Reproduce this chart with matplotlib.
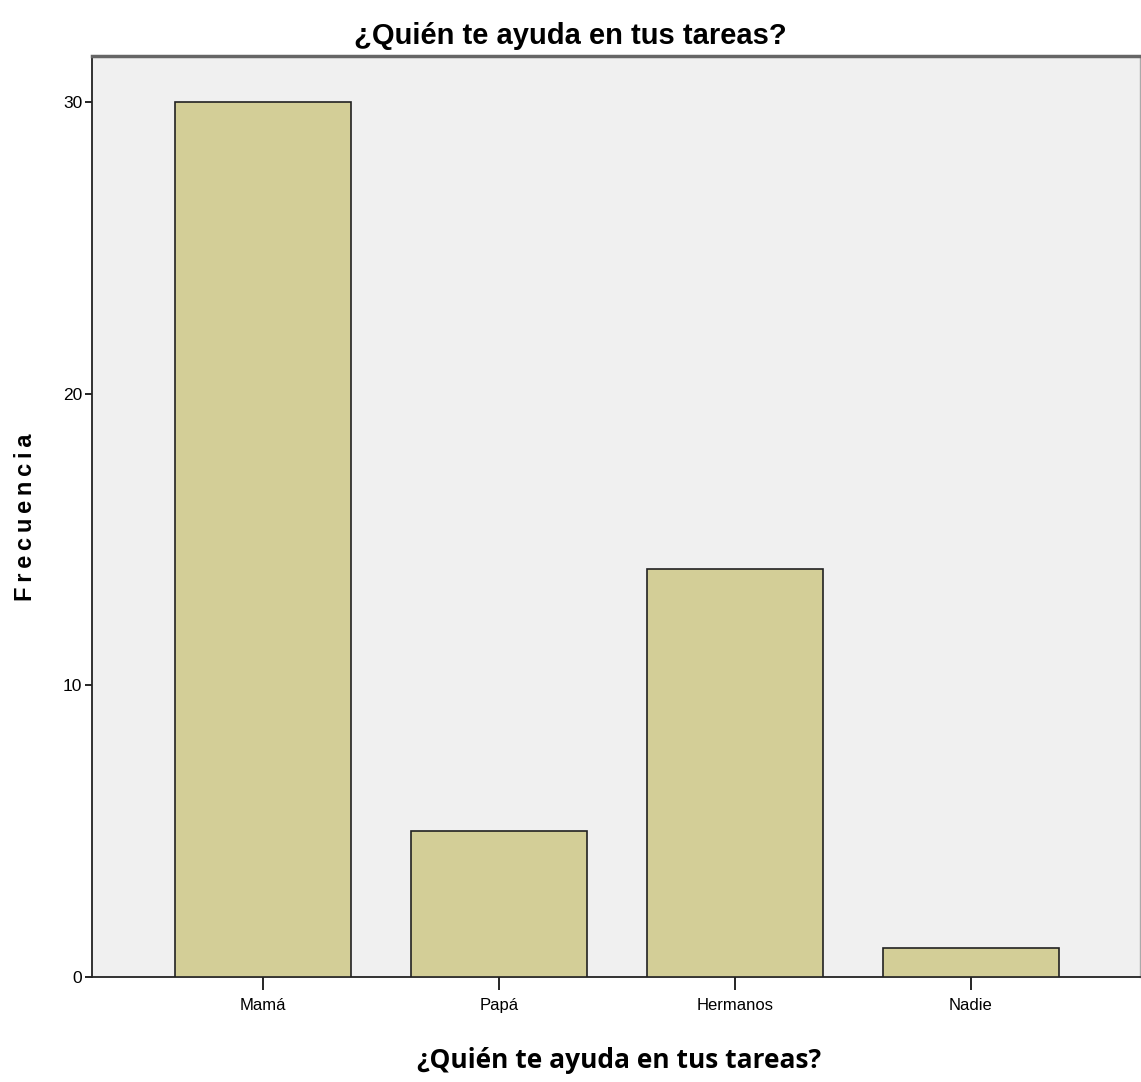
import matplotlib
matplotlib.use("Agg")
import matplotlib.pyplot as plt

categories = ["Mamá", "Papá", "Hermanos", "Nadie"]
values = [30, 5, 14, 1]
yticks = [0, 10, 20, 30]

fig = plt.figure(figsize=(11.41, 10.82), dpi=100)
ax = fig.add_axes([0.0806, 0.0970, 0.9185, 0.8512])
ax.set_facecolor("#F0F0F0")

x = list(range(len(categories)))
ax.bar(x, values, width=0.746, color="#D3CE97", edgecolor="#222222", linewidth=1.2, zorder=3)

ax.set_xlim(-0.7246, 3.716)
ax.set_ylim(0, 31.58)
ax.set_xticks(x)
ax.set_xticklabels(categories, fontsize=12, family="Liberation Sans")
ax.set_yticks(yticks)
ax.set_yticklabels([str(v) for v in yticks], fontsize=12.5, family="Liberation Sans")
ax.tick_params(axis="x", length=9, width=1.2, pad=6)
ax.tick_params(axis="y", length=5, width=1.2, pad=2)

for s in ["left", "bottom"]:
    ax.spines[s].set_linewidth(1.3)
    ax.spines[s].set_color("#222222")
ax.spines["top"].set_linewidth(2.5)
ax.spines["top"].set_color("#666666")
ax.spines["right"].set_linewidth(1.0)
ax.spines["right"].set_color("#AAAAAA")

fig.text(0.5, 0.967, "¿Quién te ayuda en tus tareas?", ha="center", va="center",
         fontsize=21, fontweight="bold", family="Liberation Sans")
fig.text(0.5425, 0.020, "¿Quién te ayuda en tus tareas?", ha="center", va="center",
         fontsize=19, fontweight="bold", family="Open Sans")
ylab = "\u2009".join("Frecuencia")
fig.text(0.022, 0.522, ylab, ha="center", va="center", rotation=90,
         fontsize=17, fontweight="bold", family=["Liberation Sans", "DejaVu Sans"])

fig.savefig("out.png", dpi=100, facecolor="white")
